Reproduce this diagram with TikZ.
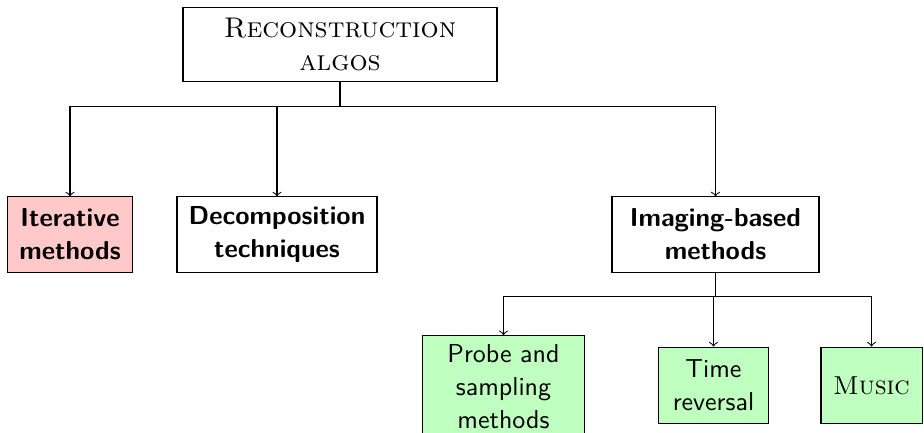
\documentclass[tikz,border=0pt]{standalone}
\usepackage{amsfonts,amsmath,amssymb}
\usepackage[dvipsnames]{xcolor}
\usepackage{tikz}
\usetikzlibrary{calc}
\tikzstyle{family}=[draw=black, align=center, inner sep=3.33pt]
\tikzstyle{first}=[family, font=\sffamily\bfseries\fontsize{10}{12.7}\selectfont, minimum height=28.9pt]
\tikzstyle{second}=[family, fill=green!25, font=\sffamily\fontsize{10}{12.7}\selectfont, minimum height=29.6pt]

\begin{document}
\begin{tikzpicture}[x=0.385pt, y=-0.385pt]
        \useasboundingbox (0,0) rectangle (924,432);

        \node[family, minimum width=120.9pt, minimum height=28.7pt,
          font=\fontsize{10.95}{12.8}\selectfont] (root) at (340,44.5)
          {\textsc{Reconstruction}\\\textsc{algos}};

        \node[first, fill=red!21, minimum width=48.1pt] (iter) at (70,234.5) {Iterative\\methods};
        \node[first, minimum width=77pt] (decomp) at (277,234.5) {Decomposition\\techniques};
        \node[first, minimum width=79.7pt] (imaging) at (715.5,234.5) {Imaging-based\\methods};

        \node[second, minimum width=62pt] (probe) at (503.5,386.5) {Probe and\\sampling\\methods};
        \node[second, minimum width=42pt] (time) at (713.5,385.5) {Time\\reversal};
        \node[second, minimum width=38.9pt, font=\rmfamily] (music) at (871.5,385.5) {\textsc{Music}};

        \foreach \c in {iter,decomp,imaging}{
          \draw[->] (root.south) -- ++(0,24) -| (\c.north);
        }
        \foreach \c in {probe,time,music}{
          \draw[->] (imaging.south) -- ++(0,24) -| (\c.north);
        }
      \end{tikzpicture}
\end{document}
